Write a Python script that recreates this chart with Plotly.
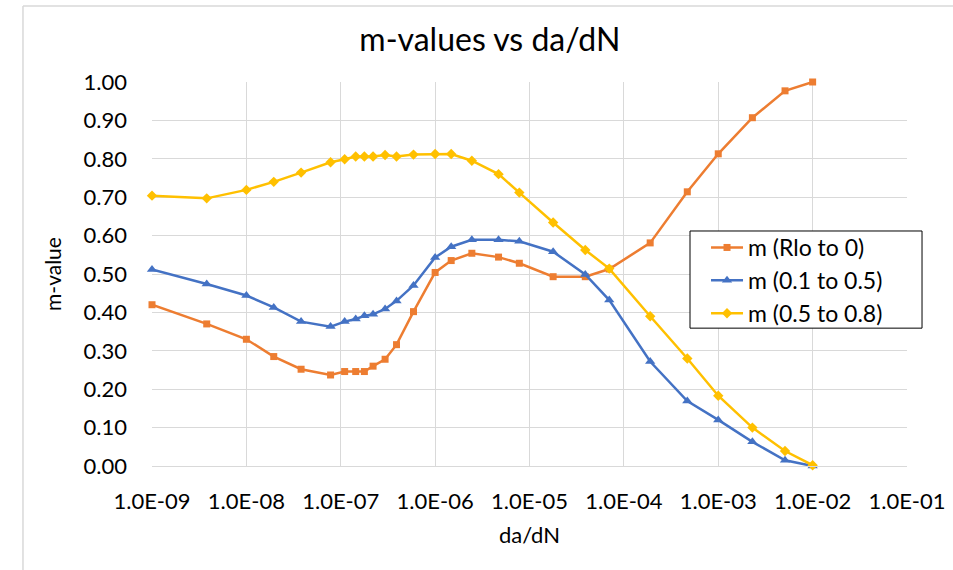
import plotly.graph_objects as go

# da/dN sample points shared by all three m-value series
da_dn = [1e-9, 3.8e-9, 1e-8, 1.95e-8, 3.8e-8, 7.8e-8, 1.1e-7, 1.44e-7, 1.78e-7,
         2.2e-7, 2.95e-7, 3.9e-7, 5.9e-7, 1e-6, 1.48e-6, 2.45e-6, 4.7e-6, 7.8e-6,
         1.78e-5, 3.9e-5, 7e-5, 1.9e-4, 4.7e-4, 1e-3, 2.3e-3, 5.1e-3, 1e-2]

m_rlo_to_0 = [0.42, 0.37, 0.33, 0.285, 0.252, 0.237, 0.246, 0.246, 0.246,
              0.26, 0.278, 0.316, 0.402, 0.504, 0.535, 0.554, 0.544, 0.528,
              0.493, 0.493, 0.513, 0.581, 0.714, 0.813, 0.907, 0.977, 1.0]

m_01_to_05 = [0.512, 0.474, 0.444, 0.413, 0.376, 0.363, 0.376, 0.383, 0.391,
              0.395, 0.409, 0.430, 0.470, 0.543, 0.571, 0.589, 0.589, 0.585,
              0.558, 0.499, 0.432, 0.272, 0.169, 0.120, 0.063, 0.015, 0.0]

m_05_to_08 = [0.704, 0.697, 0.719, 0.740, 0.764, 0.791, 0.799, 0.806, 0.806,
              0.806, 0.810, 0.806, 0.811, 0.8125, 0.8125, 0.795, 0.760, 0.712,
              0.634, 0.5625, 0.514, 0.39, 0.28, 0.183, 0.1, 0.039, 0.002]

x_tick_vals = [1e-9, 1e-8, 1e-7, 1e-6, 1e-5, 1e-4, 1e-3, 1e-2, 1e-1]
x_tick_text = ["1.0E-09", "1.0E-08", "1.0E-07", "1.0E-06", "1.0E-05",
               "1.0E-04", "1.0E-03", "1.0E-02", "1.0E-01"]
y_tick_vals = [i / 10 for i in range(11)]
y_tick_text = [f"{v:.2f}" for v in y_tick_vals]

FONT = "Lato, 'Liberation Sans', sans-serif"
GRID = "#d9d9d9"

series = [
    ("m (Rlo to 0)", m_rlo_to_0, "#ED7D31", "square", 7),
    ("m (0.1 to 0.5)", m_01_to_05, "#4472C4", "triangle-up", 9),
    ("m (0.5 to 0.8)", m_05_to_08, "#FFC000", "diamond", 8),
]

fig = go.Figure()
for name, vals, color, symbol, size in series:
    fig.add_trace(go.Scatter(
        x=da_dn, y=vals, name=name, mode="lines+markers",
        line=dict(color=color, width=2.5),
        marker=dict(symbol=symbol, size=size, color=color),
        cliponaxis=False,
    ))

fig.update_layout(
    width=953, height=570,
    margin=dict(l=152, r=46, t=82, b=104, autoexpand=False),
    paper_bgcolor="white", plot_bgcolor="white",
    font=dict(family=FONT, size=22, color="#000000"),
    title=dict(text="m-values vs da/dN", x=0.514, y=0.93,
               xanchor="center", yanchor="middle",
               font=dict(family=FONT, size=32, color="#000000")),
    legend=dict(x=0.7338, y=0.625, xanchor="left", yanchor="top",
                borderwidth=0, bgcolor="rgba(0,0,0,0)",
                font=dict(family=FONT, size=23), itemwidth=32,
                tracegroupgap=0),
    showlegend=True,
)

fig.update_xaxes(
    type="log", range=[-9, -1], automargin=False,
    tickvals=x_tick_vals, ticktext=x_tick_text,
    showgrid=True, gridcolor=GRID, gridwidth=1,
    showline=True, linecolor=GRID, linewidth=1,
    ticks="", ticklabelstandoff=16,
    title=dict(text="da/dN", standoff=14, font=dict(size=22)),
    zeroline=False,
)
fig.update_yaxes(
    range=[0, 1.0], automargin=False,
    tickvals=y_tick_vals, ticktext=y_tick_text,
    showgrid=True, gridcolor=GRID, gridwidth=1,
    showline=False, ticks="", ticklabelstandoff=24,
    title=dict(text="m-value", standoff=16, font=dict(size=21)),
    zeroline=False,
)

# Legend frame: white box with a thin black border behind the legend entries
fig.add_shape(type="rect", xref="paper", yref="paper", layer="above",
              x0=0.7126, x1=1.0199, y0=0.359, y1=0.612,
              fillcolor="white", line=dict(color="#000000", width=1))

# Light outer frame of the chart area (left and top edges)
fig.add_shape(type="line", xref="paper", yref="paper",
              x0=-0.1709, x1=-0.1709, y0=1.198, y1=-0.3,
              line=dict(color="#d9d9d9", width=1.5))
fig.add_shape(type="line", xref="paper", yref="paper",
              x0=-0.1709, x1=1.07, y0=1.198, y1=1.198,
              line=dict(color="#d9d9d9", width=1.5))

fig.write_html("out.html")
